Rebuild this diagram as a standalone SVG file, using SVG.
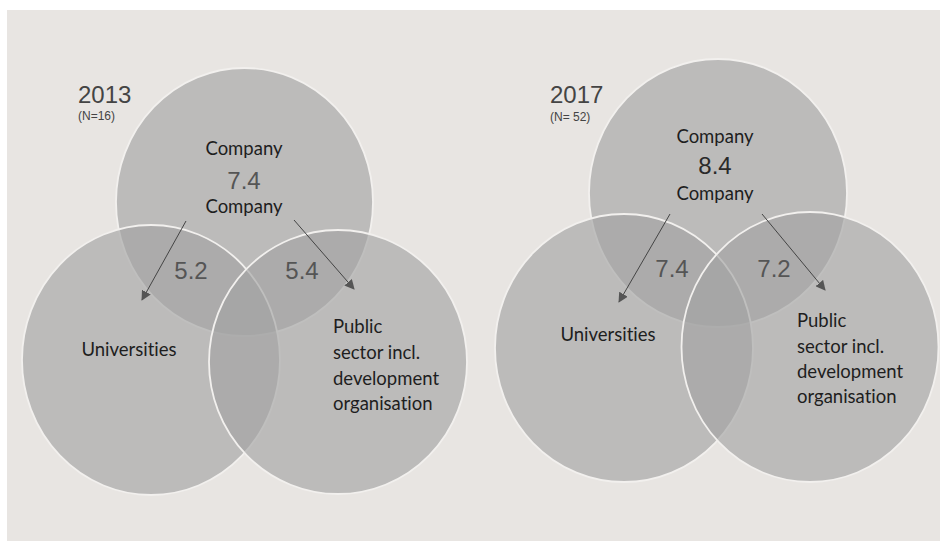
<svg xmlns="http://www.w3.org/2000/svg" width="940" height="541" viewBox="0 0 940 541">
<defs>
<style>
.c{fill:#a2a2a2;fill-opacity:0.64;stroke:#f2f0ee;stroke-width:1.8}
.lbl{font-family:Lato,"Open Sans","Liberation Sans",sans-serif;fill:#1e1e1e;font-size:18.5px;font-variant-ligatures:none;font-feature-settings:"liga" 0}
.num{font-family:"Liberation Sans",Arial,sans-serif;fill:#555;font-size:24px;text-anchor:middle}
.yr{font-family:"Liberation Sans",Arial,sans-serif;fill:#444;font-size:24px}
.n{font-family:"Liberation Sans",Arial,sans-serif;fill:#444;font-size:12px}
.ar{stroke:#444;stroke-width:1;fill:none;marker-end:url(#ah)}
</style>
<marker id="ah" viewBox="0 0 10 10" refX="9" refY="5" markerWidth="10" markerHeight="10" markerUnits="userSpaceOnUse" orient="auto">
<path d="M0,0 L10,5 L0,10 z" fill="#555"/>
</marker>
</defs>
<rect x="0" y="0" width="940" height="541" fill="#ffffff"/>
<rect x="7" y="10" width="933" height="531" fill="#e8e5e2"/>

<g id="venn2013">
<g id="company2013">
<ellipse class="c" cx="244.5" cy="202" rx="128.5" ry="134"/>
</g>
<g id="universities2013">
<ellipse class="c" cx="151" cy="360" rx="129" ry="135"/>
</g>
<g id="public2013">
<ellipse class="c" cx="338" cy="362" rx="129" ry="132"/>
</g>
<text class="yr" x="78" y="103">2013</text>
<text class="n" x="78" y="120">(N=16)</text>
<text class="lbl" x="244" y="155" text-anchor="middle">Company</text>
<text class="num" x="244" y="189">7.4</text>
<text class="lbl" x="244" y="213" text-anchor="middle">Company</text>
<text class="num" x="191" y="279">5.2</text>
<text class="num" x="302" y="279">5.4</text>
<text class="lbl" x="129" y="356" text-anchor="middle">Universities</text>
<text class="lbl" x="333"><tspan x="333" y="333">Public</tspan><tspan x="333" y="359">sector incl.</tspan><tspan x="333" y="385">development</tspan><tspan x="333" y="410">organisation</tspan></text>
</g>

<g id="venn2017">
<g id="company2017">
<ellipse class="c" cx="718" cy="193" rx="129" ry="134"/>
</g>
<g id="universities2017">
<ellipse class="c" cx="624" cy="348" rx="129" ry="134"/>
</g>
<g id="public2017">
<ellipse class="c" cx="810" cy="347" rx="128.5" ry="135"/>
</g>
<text class="yr" x="550" y="103">2017</text>
<text class="n" x="550" y="121">(N= 52)</text>
<text class="lbl" x="715" y="143" text-anchor="middle">Company</text>
<text class="num" x="715" y="174" style="fill:#2a2a2a">8.4</text>
<text class="lbl" x="715" y="200" text-anchor="middle">Company</text>
<text class="num" x="672" y="277">7.4</text>
<text class="num" x="774" y="277">7.2</text>
<text class="lbl" x="608" y="341" text-anchor="middle">Universities</text>
<text class="lbl" x="797"><tspan x="797" y="327">Public</tspan><tspan x="797" y="353">sector incl.</tspan><tspan x="797" y="378">development</tspan><tspan x="797" y="403">organisation</tspan></text>
</g>

<g id="connectors">
<line class="ar" x1="186" y1="221" x2="142" y2="300"/>
<line class="ar" x1="294" y1="220" x2="354" y2="289"/>
<line class="ar" x1="670" y1="214" x2="619" y2="302"/>
<line class="ar" x1="762" y1="214" x2="825" y2="290"/>
</g>
</svg>
